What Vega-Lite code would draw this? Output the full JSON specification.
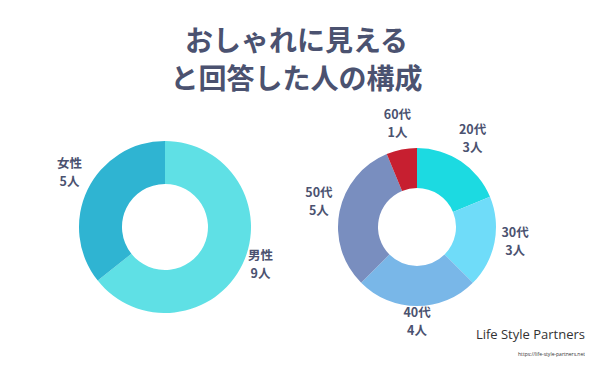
{
  "$schema": "https://vega.github.io/schema/vega-lite/v6.json",
  "background": "white",
  "padding": {"top": 28, "left": 0, "right": 0, "bottom": 0},
  "bounds": "flush",
  "spacing": 0,
  "title": {
    "text": ["おしゃれに見える", "と回答した人の構成"],
    "anchor": "middle",
    "dx": 4,
    "font": "Noto Sans CJK JP",
    "fontSize": 28,
    "fontWeight": "bold",
    "lineHeight": 38,
    "color": "#4b5270",
    "offset": 14
  },
  "resolve": {"scale": {"color": "independent", "theta": "independent"}},
  "hconcat": [
    {
      "width": 330,
      "height": 230,
      "data": {"values": [
        {"group": "男性", "count": 9},
        {"group": "女性", "count": 5}
      ]},
      "transform": [{"calculate": "datum.count + '人'", "as": "people"}],
      "encoding": {
        "theta": {"field": "count", "type": "quantitative", "stack": true},
        "order": {"field": "count", "type": "quantitative", "sort": "descending"}
      },
      "layer": [
        {
          "mark": {"type": "arc", "innerRadius": 43, "outerRadius": 86},
          "encoding": {
            "color": {"field": "group", "type": "nominal", "legend": null,
              "scale": {"domain": ["男性", "女性"], "range": ["#5fe0e5", "#2fb4d2"]}}
          }
        },
        {
          "mark": {"type": "text", "radius": 106, "dy": -17, "font": "Noto Sans CJK JP", "fontWeight": "bold", "fontSize": 12.5, "color": "#4b5270", "align": "center", "baseline": "middle"},
          "encoding": {"text": {"field": "group", "type": "nominal"}}
        },
        {
          "mark": {"type": "text", "radius": 106, "dy": 1, "font": "Noto Sans CJK JP", "fontWeight": "bold", "fontSize": 12.5, "color": "#4b5270", "align": "center", "baseline": "middle"},
          "encoding": {"text": {"field": "people", "type": "nominal"}}
        }
      ]
    },
    {
      "width": 174,
      "height": 230,
      "title": {
        "text": "Life Style Partners",
        "subtitle": "https://life-style-partners.net",
        "orient": "bottom",
        "anchor": "end",
        "frame": "group",
        "dx": 81,
        "offset": -13,
        "font": "Open Sans",
        "fontSize": 13,
        "fontWeight": "normal",
        "color": "#333333",
        "subtitleFont": "Open Sans",
        "subtitleFontSize": 5,
        "subtitleColor": "#333333",
        "subtitlePadding": 10
      },
      "data": {"values": [
        {"group": "20代", "count": 3},
        {"group": "30代", "count": 3},
        {"group": "40代", "count": 4},
        {"group": "50代", "count": 5},
        {"group": "60代", "count": 1}
      ]},
      "transform": [{"calculate": "datum.count + '人'", "as": "people"}],
      "encoding": {
        "theta": {"field": "count", "type": "quantitative", "stack": true},
        "order": {"field": "group", "type": "nominal", "sort": "ascending"}
      },
      "layer": [
        {
          "mark": {"type": "arc", "innerRadius": 39, "outerRadius": 79},
          "encoding": {
            "color": {"field": "group", "type": "nominal", "legend": null,
              "scale": {"domain": ["20代", "30代", "40代", "50代", "60代"], "range": ["#1cdae1", "#6fdcf9", "#79b7e8", "#798ebf", "#c71f30"]}}
          }
        },
        {
          "mark": {"type": "text", "radius": 100, "dy": -14, "font": "Noto Sans CJK JP", "fontWeight": "bold", "fontSize": 12.5, "color": "#4b5270", "align": "center", "baseline": "middle"},
          "encoding": {"text": {"field": "group", "type": "nominal"}}
        },
        {
          "mark": {"type": "text", "radius": 100, "dy": 4, "font": "Noto Sans CJK JP", "fontWeight": "bold", "fontSize": 12.5, "color": "#4b5270", "align": "center", "baseline": "middle"},
          "encoding": {"text": {"field": "people", "type": "nominal"}}
        }
      ]
    }
  ],
  "config": {"view": {"stroke": null}}
}
